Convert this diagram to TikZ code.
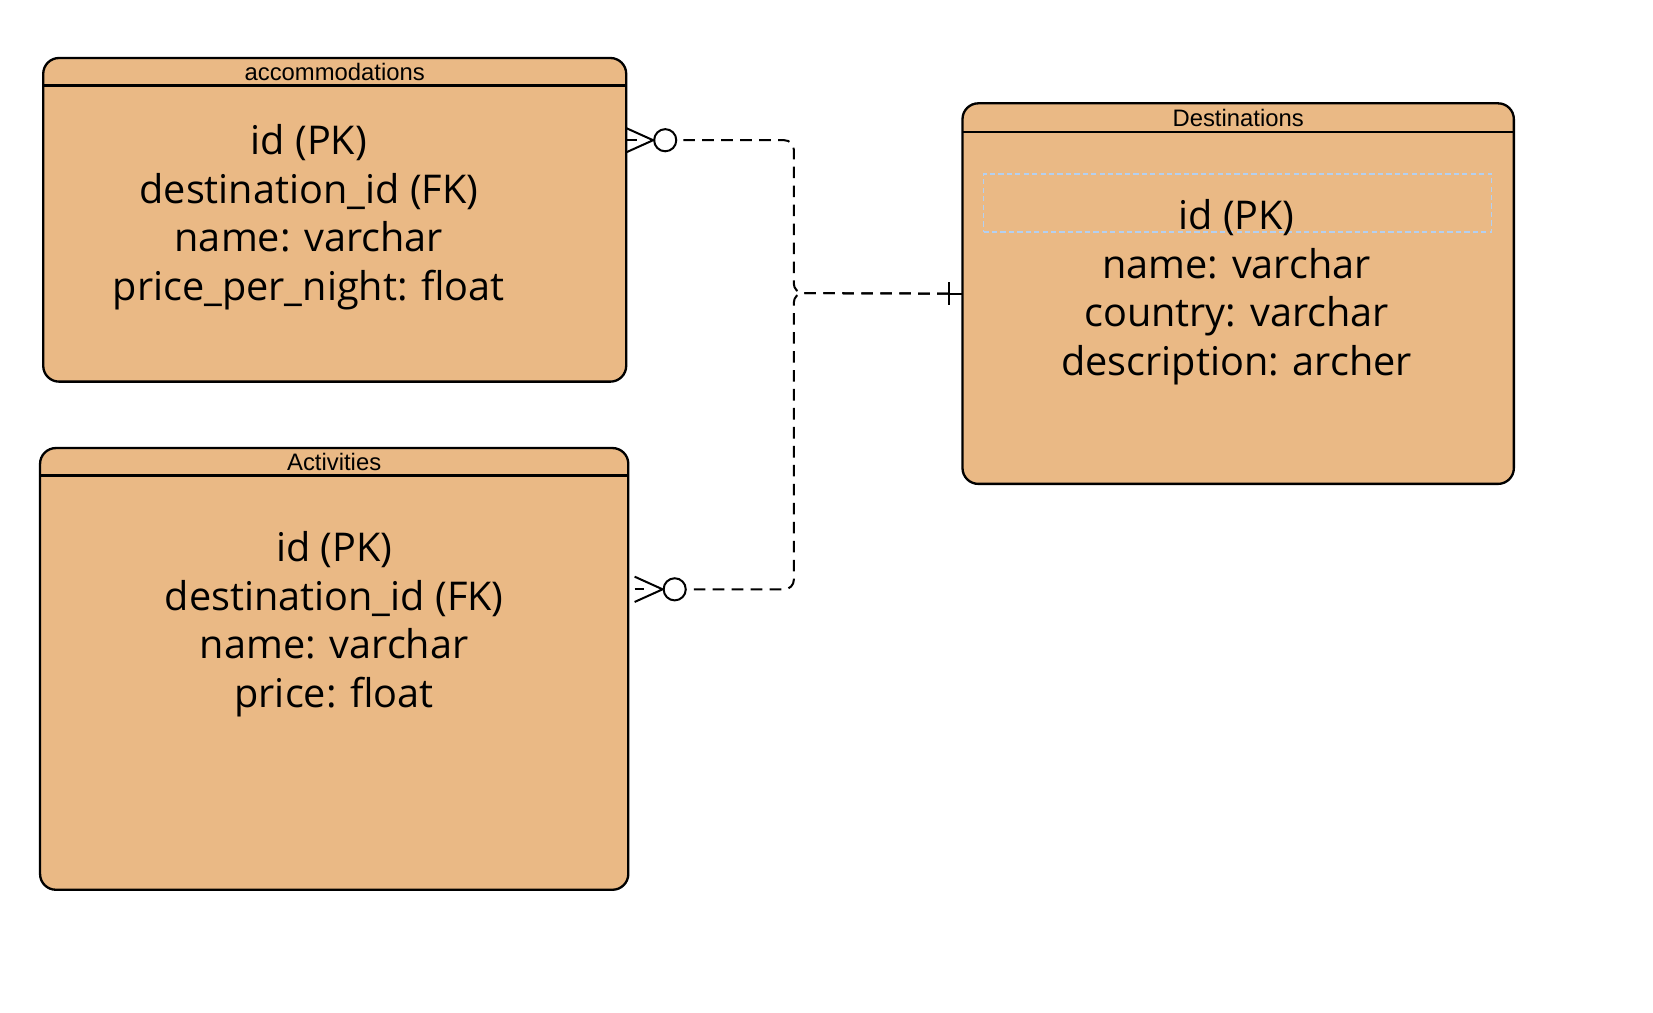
\documentclass[tikz,border=0pt]{standalone}
\usepackage{fontspec}
\setmainfont{Open Sans}
\newfontfamily\titlefont{Liberation Sans}
\usetikzlibrary{positioning}

\definecolor{tablefill}{HTML}{EAB985}
\definecolor{selblue}{HTML}{B3D0F2}

\begin{document}
\begin{tikzpicture}[x=0.5pt,y=-0.5pt,
	tablebox/.style={draw,line width=1.1pt,rounded corners=7.5pt,fill=tablefill,outer sep=0pt},
	titletext/.style={font=\titlefont\fontsize{11.3}{13}\selectfont,inner sep=0pt},
	fieldtext/.style={align=center,font=\fontsize{18.8}{23}\selectfont},
	relline/.style={line width=0.95pt,dash pattern=on 5.5pt off 3.5pt,rounded corners=4.5pt},
	markline/.style={line width=0.95pt},
	zerodot/.style={circle,draw,line width=0.95pt,minimum size=10.5pt,inner sep=0pt}
]
	\useasboundingbox (0,0) rectangle (1568,960);

	% tables
	\node[tablebox,minimum width=276.5pt,minimum height=153.5pt] at (317.5,208.5) (accom) {};
	\node[tablebox,minimum width=279pt,minimum height=209.5pt] at (317,634.5) (act) {};
	\node[tablebox,minimum width=261.5pt,minimum height=180.5pt] at (1174.5,278.5) (dest) {};

	\draw[line width=1.1pt] ([yshift=-13pt]accom.north west) -- ([yshift=-13pt]accom.north east);
	\draw[line width=1.1pt] ([yshift=-13pt]act.north west) -- ([yshift=-13pt]act.north east);
	\draw[line width=1.1pt] ([yshift=-13.5pt]dest.north west) -- ([yshift=-13.5pt]dest.north east);

	\node[titletext] at ([yshift=-6.5pt]accom.north) (accomT) {accommodations};
	\node[titletext] at ([yshift=-6.5pt]act.north) (actT) {Activities};
	\node[titletext] at ([yshift=-6.75pt]dest.north) (destT) {Destinations};

	\node[draw=selblue,line width=0.7pt,dash pattern=on 2.5pt off 1.5pt,minimum width=241pt,
		minimum height=27.5pt,inner sep=0pt] at (1174,192.5) (pkbox) {};

	\node[fieldtext] at (293,206) (accomF) {id (PK)\\destination\_id (FK)\\name: varchar\\price\_per\_night: float};
	\node[fieldtext] at (317,592) (actF) {id (PK)\\destination\_id (FK)\\name: varchar\\price: float};
	\node[fieldtext] at (1173,277) (destF) {id (PK)\\name: varchar\\country: varchar\\description: archer};

	% relations
	\node[zerodot] at (631,133) (accomO) {};
	\node[zerodot] at (640,559) (actO) {};
	\coordinate (jn) at (753,278);
	\coordinate (destI) at ([xshift=-6.5pt]dest.west);
	\coordinate (accomE) at (accom.east |- accomO);
	\coordinate (actE) at (act.east |- actO);

	\draw[relline] (destI) -- (jn) |- (accomO.east);
	\draw[relline] (destI) -- (jn) |- (actO.east);

	\draw[markline] (destI) -- (dest.west);
	\draw[markline] ([yshift=5.5pt]destI) -- ([yshift=-5.5pt]destI);

	\draw[markline] ([yshift=5.75pt]accomE) -- (accomO.west) -- ([yshift=-5.75pt]accomE);
	\draw[markline] (accomE) -- ++(10,0);
	\draw[markline] ([xshift=3pt,yshift=6pt]actE) -- (actO.west) -- ([xshift=3pt,yshift=-6pt]actE);
	\draw[markline] ([xshift=3pt]actE) -- ++(9,0);
\end{tikzpicture}
\end{document}
